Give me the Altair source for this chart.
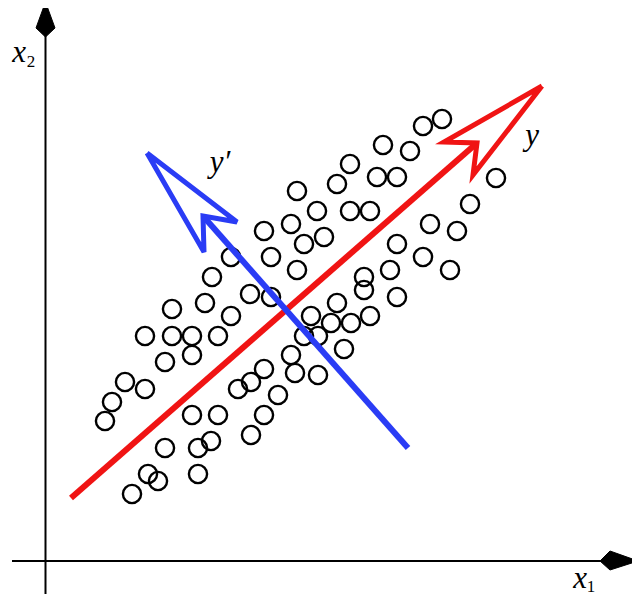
import altair as alt
import pandas as pd

# Data points (x1, x2) (pixel-space coordinates, y downward)
pt_x = [442, 423, 383, 410, 350, 377, 397, 337, 297, 496, 470, 317, 350, 370,
        264, 291, 324, 304, 430, 457, 397, 271, 231, 297, 423, 450, 390, 212,
        364, 364, 250, 271, 397, 205, 172, 231, 337, 311, 331, 351, 370, 145,
        172, 192, 218, 304, 318, 165, 192, 344, 291, 125, 145, 112, 105, 264,
        251, 238, 295, 318, 278, 192, 218, 264, 251, 165, 198, 211, 148, 158,
        132, 198]
pt_y = [119, 126, 145, 151, 164, 177, 177, 184, 191, 178, 204, 211, 211, 211,
        231, 224, 237, 244, 224, 231, 244, 257, 257, 270, 257, 270, 270, 277,
        277, 290, 294, 297, 297, 303, 309, 316, 303, 316, 323, 323, 316, 336,
        336, 336, 336, 336, 336, 362, 355, 349, 355, 382, 389, 402, 421, 369,
        382, 389, 373, 375, 395, 415, 415, 415, 435, 448, 448, 441, 474, 481,
        494, 474]

# Principal axes: shaft start -> notch, arrowhead outline (tip, barb, notch, barb, tip)
red_shaft_x = [71, 477]
red_shaft_y = [498, 143]
red_head_x = [542, 444, 477, 473, 542]
red_head_y = [86, 142, 143, 175, 86]

blue_shaft_x = [408, 203]
blue_shaft_y = [448, 216]
blue_head_x = [147, 237, 203, 204, 147]
blue_head_y = [153, 222, 216, 252, 153]

# Coordinate axes
vaxis_x = [45.5, 45.5]
vaxis_y = [594, 30]
vhead_x = [45.5, 36, 45.5, 55, 45.5]
vhead_y = [2, 28, 37, 28, 2]
haxis_x = [12, 605]
haxis_y = [561, 561]
hhead_x = [638, 610, 600, 610, 638]
hhead_y = [561, 551, 561, 570, 561]

W, H = 624, 588
xs = alt.Scale(domain=[8, 8 + W], nice=False, zero=False)
ys = alt.Scale(domain=[8, 8 + H], nice=False, zero=False, reverse=True)


def X(f="x"):
    return alt.X(f"{f}:Q", scale=xs, axis=None)


def Y(f="y"):
    return alt.Y(f"{f}:Q", scale=ys, axis=None)


def path_df(xv, yv, name):
    return pd.DataFrame({"x": xv, "y": yv, "i": list(range(len(xv))), "g": name})


pts = pd.DataFrame({"x": pt_x, "y": pt_y})
circles = alt.Chart(pts).mark_point(
    shape="circle", filled=False, size=330, strokeWidth=2.4, color="black", opacity=1
).encode(x=X(), y=Y())


def line(xv, yv, name, color, width, fill=None):
    kw = dict(color=color, strokeWidth=width, strokeJoin="miter", strokeCap="butt")
    if fill:
        kw["fill"] = fill
    return alt.Chart(path_df(xv, yv, name)).mark_line(**kw).encode(
        x=X(), y=Y(), order=alt.Order("i:Q")
    )


RED = "#f01414"
BLUE = "#2a3cf5"

layers = [
    circles,
    line(red_shaft_x, red_shaft_y, "rs", RED, 6),
    line(red_head_x, red_head_y, "rh", RED, 5),
    line(blue_shaft_x, blue_shaft_y, "bs", BLUE, 6),
    line(blue_head_x, blue_head_y, "bh", BLUE, 5),
    line(vaxis_x, vaxis_y, "va", "black", 2),
    line(haxis_x, haxis_y, "ha", "black", 2),
    line(vhead_x, vhead_y, "vh", "black", 1, fill="black"),
    line(hhead_x, hhead_y, "hh", "black", 1, fill="black"),
]

labels = pd.DataFrame({
    "x": [19, 580, 532, 220],
    "y": [62, 588, 145, 172],
    "t": ["x", "x", "y", "y\u2032"],
})
subs = pd.DataFrame({
    "x": [31, 591],
    "y": [67, 592],
    "t": ["2", "1"],
})
text_main = alt.Chart(labels).mark_text(
    font="Liberation Serif", fontStyle="italic", fontSize=31, align="center",
    baseline="alphabetic", color="black"
).encode(x=X(), y=Y(), text="t:N")
text_sub = alt.Chart(subs).mark_text(
    font="Liberation Serif", fontSize=17, align="center",
    baseline="alphabetic", color="black"
).encode(x=X(), y=Y(), text="t:N")

chart = alt.layer(*layers, text_main, text_sub).properties(
    width=W, height=H, padding=0, autosize=alt.AutoSizeParams(type="none")
).configure_view(stroke=None)

chart.save("out.html", embed_options={"renderer": "svg", "actions": False})
